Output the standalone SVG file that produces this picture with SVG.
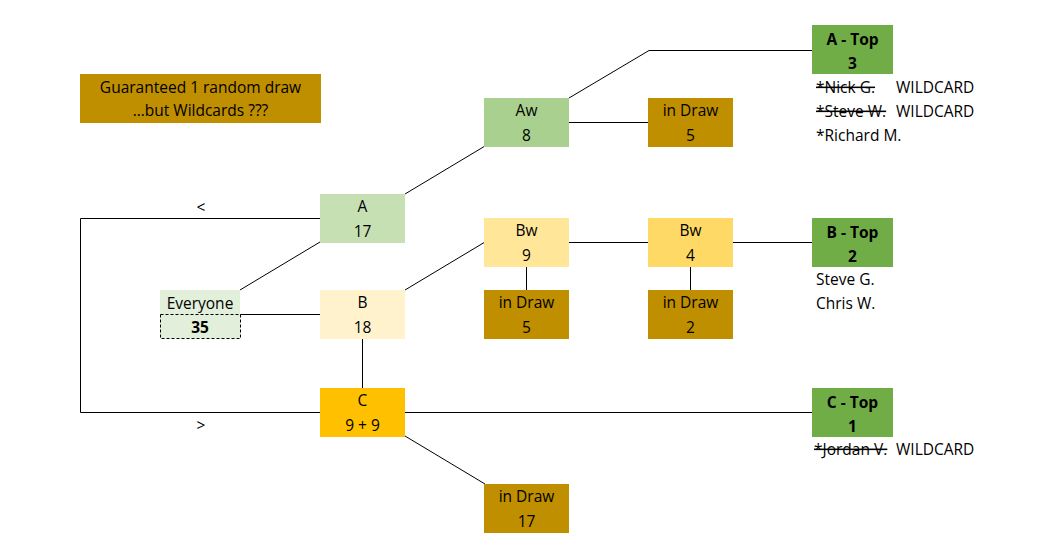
<svg xmlns="http://www.w3.org/2000/svg" width="1053" height="557" viewBox="0 0 1053 557">
<style>
text{font-family:"Open Sans","Liberation Sans",sans-serif;font-size:15.5px;fill:#000}
.c{text-anchor:middle}
.b{font-weight:bold}
.s{text-decoration:line-through}
.ln{stroke:#000;stroke-width:1;fill:none}
</style>
<rect width="1053" height="557" fill="#fff"/>
<g id="connectors">
<polyline class="ln" points="320,218.5 80.5,218.5 80.5,412.5 320,412.5"/>
<line class="ln" x1="240" y1="290" x2="320" y2="242"/>
<line class="ln" x1="240" y1="314.5" x2="320" y2="314.5"/>
<line class="ln" x1="362.5" y1="339" x2="362.5" y2="388"/>
<line class="ln" x1="405" y1="194" x2="485" y2="146"/>
<line class="ln" x1="569" y1="122.5" x2="648" y2="122.5"/>
<polyline class="ln" points="569,98 649,50.5 812,50.5"/>
<line class="ln" x1="405" y1="290" x2="485" y2="242"/>
<line class="ln" x1="569" y1="242.5" x2="648" y2="242.5"/>
<line class="ln" x1="733" y1="242.5" x2="812" y2="242.5"/>
<line class="ln" x1="526.5" y1="267" x2="526.5" y2="290"/>
<line class="ln" x1="690.5" y1="267" x2="690.5" y2="290"/>
<line class="ln" x1="405" y1="412.5" x2="812" y2="412.5"/>
<line class="ln" x1="405" y1="436" x2="485" y2="484"/>
<text x="201" y="213" class="c">&lt;</text>
<text x="201" y="431" class="c">&gt;</text>
</g>
<g id="note">
<rect x="80" y="74" width="241" height="49" fill="#BF8F00"/>
<text x="200.5" y="93" class="c">Guaranteed 1 random draw</text>
<text x="200.5" y="116" class="c">…but Wildcards ???</text>
</g>
<g id="everyone">
<rect x="160" y="290" width="80" height="48" fill="#E2EFDA"/>
<rect x="160.5" y="314.5" width="80" height="24" fill="#E2EFDA" stroke="#000" stroke-dasharray="3,2"/>
<text x="200" y="309" class="c">Everyone</text>
<text x="200" y="333" class="c b">35</text>
</g>
<g id="A">
<rect x="320" y="194" width="85" height="49" fill="#C6E0B4"/>
<text x="362.5" y="212" class="c">A</text>
<text x="362.5" y="236.5" class="c">17</text>
</g>
<g id="B">
<rect x="320" y="290" width="85" height="49" fill="#FFF2CC"/>
<text x="362.5" y="308" class="c">B</text>
<text x="362.5" y="332.5" class="c">18</text>
</g>
<g id="C">
<rect x="320" y="388" width="85" height="49" fill="#FFC000"/>
<text x="362.5" y="406" class="c">C</text>
<text x="362.5" y="430.5" class="c">9 + 9</text>
</g>
<g id="Aw">
<rect x="484" y="98" width="85" height="49" fill="#A9D08E"/>
<text x="526.5" y="116" class="c">Aw</text>
<text x="526.5" y="140.5" class="c">8</text>
</g>
<g id="A-draw">
<rect x="648" y="98" width="85" height="49" fill="#BF8F00"/>
<text x="690.5" y="116" class="c">in Draw</text>
<text x="690.5" y="140.5" class="c">5</text>
</g>
<g id="Bw9">
<rect x="484" y="218" width="85" height="49" fill="#FFE699"/>
<text x="526.5" y="236" class="c">Bw</text>
<text x="526.5" y="260.5" class="c">9</text>
</g>
<g id="Bw4">
<rect x="648" y="218" width="85" height="49" fill="#FFD966"/>
<text x="690.5" y="236" class="c">Bw</text>
<text x="690.5" y="260.5" class="c">4</text>
</g>
<g id="B-draw1">
<rect x="484" y="290" width="85" height="49" fill="#BF8F00"/>
<text x="526.5" y="308" class="c">in Draw</text>
<text x="526.5" y="332.5" class="c">5</text>
</g>
<g id="B-draw2">
<rect x="648" y="290" width="85" height="49" fill="#BF8F00"/>
<text x="690.5" y="308" class="c">in Draw</text>
<text x="690.5" y="332.5" class="c">2</text>
</g>
<g id="C-draw">
<rect x="484" y="484" width="85" height="49" fill="#BF8F00"/>
<text x="526.5" y="502" class="c">in Draw</text>
<text x="526.5" y="526.5" class="c">17</text>
</g>
<g id="A-top">
<rect x="812" y="25" width="81" height="49" fill="#70AD47"/>
<text x="852.5" y="45" class="c b">A - Top</text>
<text x="852.5" y="69" class="c b">3</text>
<text x="816" y="93" class="s">*Nick G.</text>
<text x="896" y="93">WILDCARD</text>
<text x="816" y="117" class="s">*Steve W.</text>
<text x="896" y="117">WILDCARD</text>
<text x="816" y="141">*Richard M.</text>
</g>
<g id="B-top">
<rect x="812" y="218" width="81" height="49" fill="#70AD47"/>
<text x="852.5" y="238" class="c b">B - Top</text>
<text x="852.5" y="262" class="c b">2</text>
<text x="816" y="285">Steve G.</text>
<text x="816" y="309">Chris W.</text>
</g>
<g id="C-top">
<rect x="812" y="388" width="81" height="49" fill="#70AD47"/>
<text x="852.5" y="408" class="c b">C - Top</text>
<text x="852.5" y="432" class="c b">1</text>
<text x="814" y="455" class="s">*Jordan V.</text>
<text x="896" y="455">WILDCARD</text>
</g>
</svg>
